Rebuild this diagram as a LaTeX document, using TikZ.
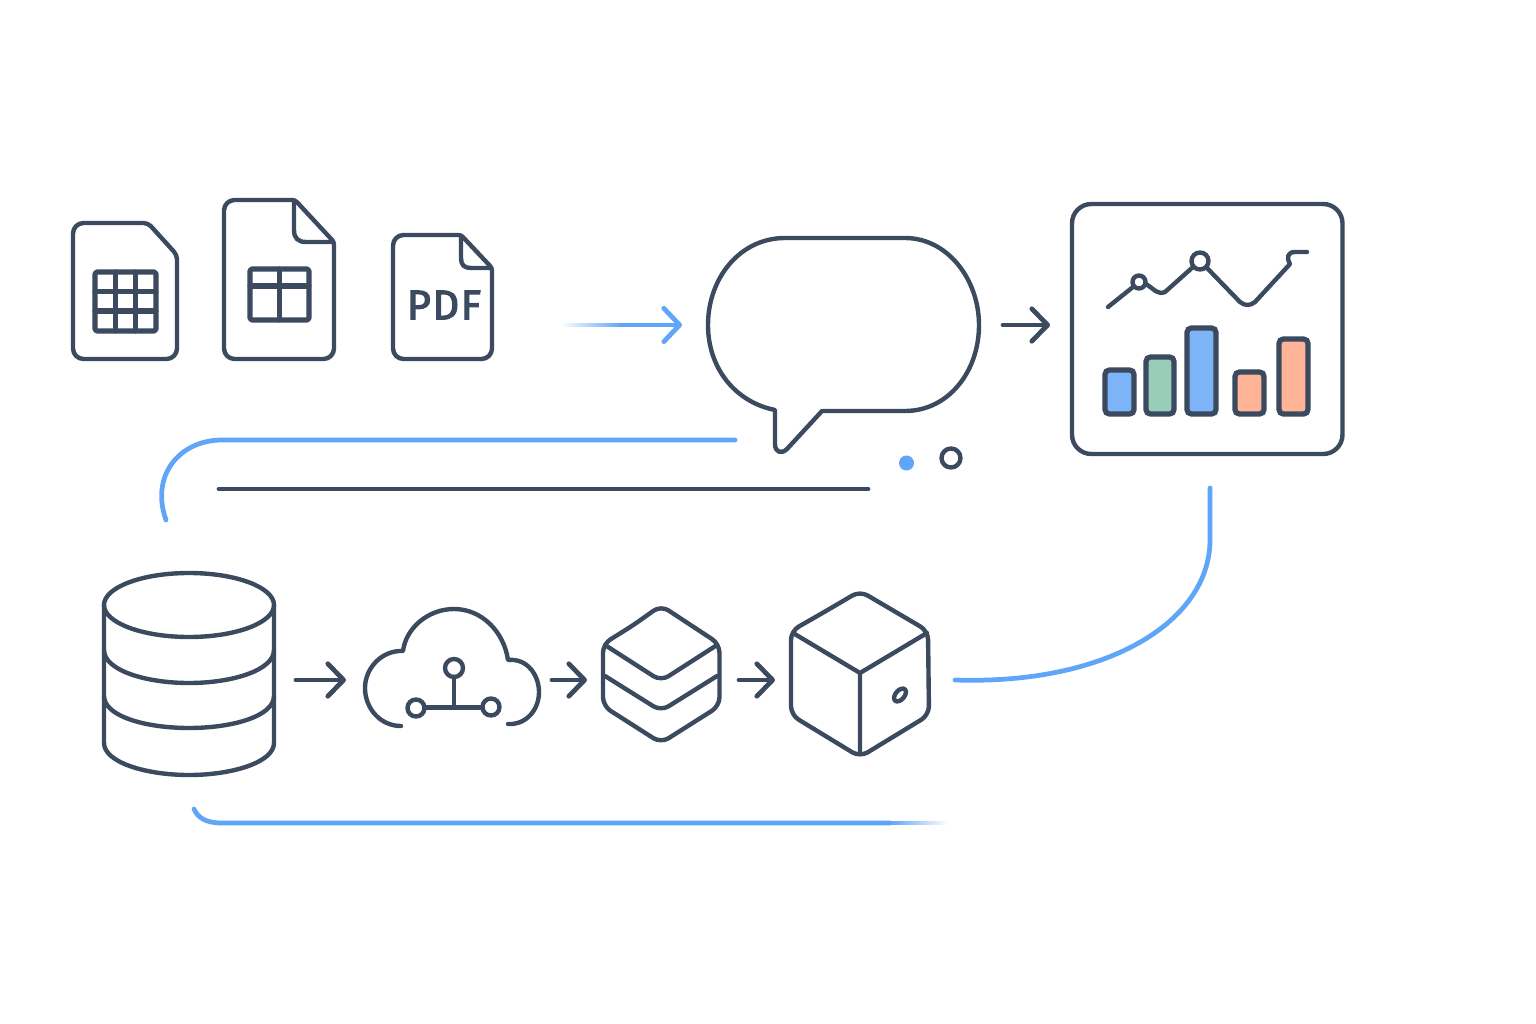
\documentclass[tikz,border=0pt]{standalone}
\usepackage{fontspec}
\newfontfamily\pdffont[FakeBold=3,LetterSpace=4]{Fira Sans}
\usepackage{xcolor}
\usetikzlibrary{calc,arrows.meta}
\definecolor{ink}{HTML}{3B4A5F}
\definecolor{flow}{HTML}{5FA5F8}
\definecolor{barblue}{HTML}{7DB4F8}
\definecolor{bargreen}{HTML}{97CDB9}
\definecolor{barorange}{HTML}{FFB498}
\tikzset{
  base/.style={draw=ink, line width=2.5pt, line cap=round, line join=round},
  grid/.style={draw=ink, line width=2.9pt, line cap=round, line join=round},
  link/.style={draw=flow, line width=2.7pt, line cap=round},
  next/.style={base, line width=2.7pt, -{Straight Barb[round,length=9pt,width=18.5pt,line width=2.7pt]}},
  nextb/.style={link, -{Straight Barb[round,length=9pt,width=19pt,line width=2.7pt]}},
  bar/.style={draw=ink, line width=3pt, rounded corners=2.5pt},
  lab/.style={text=ink, font=\pdffont\fontsize{23.5}{24}\selectfont, inner sep=0pt},
}
\begin{document}
\begin{tikzpicture}[x=0.02cm,y=-0.02cm]
  \useasboundingbox (0,0) rectangle (1536,1024);
  \fill[white] (0,0) rectangle (1536,1024);
  % named ends of the connectors
  \coordinate (filesfade) at (622,325);
  \coordinate (chatin) at (682,325);
  \coordinate (chatout) at (1003,325);
  \coordinate (panelin) at (1050,325);
  \coordinate (dbout) at (296,680);
  \coordinate (cloudin) at (346,680);
  \coordinate (cloudout) at (552,680);
  \coordinate (stackin) at (587,680);
  \coordinate (stackout) at (739,680);
  \coordinate (cubein) at (775,680);
  \coordinate (ruleleft) at (219,489);
  \coordinate (ruleright) at (868,489);
  % files
  \draw[base,rounded corners=6pt] (110,223) [rounded corners=2.5pt] -- (148,223) -- (177,255) [rounded corners=6pt] -- (177,359) -- (73,359) -- (73,223) -- cycle;
  \draw[grid,rounded corners=1pt] (95,272) rectangle (156,331);
  \draw[grid] (115.5,272) -- (115.5,331) (135.5,272) -- (135.5,331) (95,291.5) -- (156,291.5) (95,311) -- (156,311);
  \draw[base,rounded corners=6pt] (270,200) [rounded corners=1.5pt] -- (295,200) -- (334,242) [rounded corners=6pt] -- (334,359) -- (224,359) -- (224,200) -- cycle;
  \draw[base] (294,201) -- (294,230) .. controls (294,238) and (298,242) .. (306,242) -- (333,242);
  \draw[grid,rounded corners=1pt] (250,269) rectangle (309,320);
  \draw[grid] (279.5,269) -- (279.5,320) (250,286) -- (309,286);
  \draw[base,rounded corners=6pt] (430,235) [rounded corners=1.5pt] -- (461,235) -- (492,268) [rounded corners=6pt] -- (492,359) -- (393,359) -- (393,235) -- cycle;
  \draw[base] (461,236) -- (461,258) .. controls (461,265) and (464,268) .. (471,268) -- (491,268);
  \node[lab] (pdflabel) at (444,305) {PDF};
  % chat bubble
  \shade[left color=white,right color=flow] (560,323.6) rectangle (filesfade |- 0,326.4);
  \draw[nextb] (filesfade) -- (chatin);
  \draw[base] (785,238) -- (905,238) .. controls (948,238) and (979,280) .. (979,325)
    .. controls (979,372) and (948,411) .. (905,411) -- (822,411)
    -- (787,449) .. controls (782,454) and (775,453) .. (775,444) -- (775,410)
    .. controls (735,402) and (708,368) .. (708,325) .. controls (708,278) and (740,238) .. (785,238) -- cycle;
  \draw[next] (chatout) -- (panelin);
  % dashboard
  \draw[base,rounded corners=11pt] (1072,204) rectangle (1342.5,454);
  \draw[base] (1108,307) -- (1133,287);
  \draw[base] (1146,284) .. controls (1155,290) and (1158,295) .. (1165,292) -- (1193,267);
  \draw[base] (1207,268) -- (1240,302) .. controls (1245,306) and (1250,306) .. (1255,302)
    -- (1290,264) .. controls (1286,257) and (1288,252) .. (1295,252) -- (1307,252);
  \draw[base] (1139,282) circle[radius=6.5];
  \draw[base] (1200,261) circle[radius=8.5];
  \draw[bar,fill=barblue] (1105,370) rectangle (1134,414);
  \draw[bar,fill=bargreen] (1146,357) rectangle (1174,414);
  \draw[bar,fill=barblue] (1187,328) rectangle (1216,414);
  \draw[bar,fill=barorange] (1235,372) rectangle (1264,414);
  \draw[bar,fill=barorange] (1279,339) rectangle (1308,414);
  % links across the middle
  \draw[link] (735,440) -- (222,440) .. controls (180,440) and (150,475) .. (166,520);
  \draw[base,line width=2.7pt] (ruleleft) -- (ruleright);
  \fill[flow] (906.5,463) circle[radius=7.5];
  \draw[base] (951,458) circle[radius=9.5];
  \draw[link] (1210,488) -- (1210,540) .. controls (1210,620) and (1110,685) .. (955,680);
  % database
  \draw[base] (189,605) ellipse[x radius=85,y radius=32];
  \draw[base] (104,605) -- (104,743) .. controls (104,762) and (145,775) .. (189,775) .. controls (233,775) and (274,762) .. (274,743) -- (274,605);
  \draw[base] (104,650) .. controls (104,670) and (145,683) .. (189,683) .. controls (233,683) and (274,670) .. (274,650);
  \draw[base] (104,696) .. controls (104,716) and (145,728) .. (189,728) .. controls (233,728) and (274,716) .. (274,696);
  \draw[next] (dbout) -- (cloudin);
  % cloud
  \draw[base] (401,726) .. controls (380,726) and (365,708) .. (365,688)
    .. controls (365,668) and (382,650) .. (403,651)
    .. controls (406,628) and (428,609) .. (454,609)
    .. controls (482,609) and (504,632) .. (508,660)
    .. controls (528,658) and (539,676) .. (539,692)
    .. controls (539,710) and (526,725) .. (508,724);
  \draw[base] (454,668) circle[radius=9];
  \draw[base] (416,708) circle[radius=8.5];
  \draw[base] (491,707) circle[radius=8.5];
  \draw[base] (454,677) -- (454,707.5) (424.5,707.5) -- (482.5,707.5);
  \draw[next] (cloudout) -- (stackin);
  % stack
  \draw[base,rounded corners=5pt] (632,626) -- (661,605.5) -- (719.5,644) -- (719.5,706) -- (661,743) -- (603,706) -- (603,644) -- cycle;
  \draw[base,rounded corners=5pt] (605,645) -- (661,681) -- (717,645);
  \draw[base,rounded corners=5pt] (605,676) -- (661,711) -- (717,676);
  \draw[next] (stackout) -- (cubein);
  % cube
  \draw[base,rounded corners=5pt] (826,611) -- (860,591) -- (928,631) -- (929,715) -- (860,757) -- (791,715) -- (791,631) -- cycle;
  \draw[base] (793,633) -- (860,673) -- (927,633) (860,673) -- (860,754);
  \draw[base,rotate around={50:(900,695)}] (900,695) ellipse[x radius=7.5,y radius=4.5];
  % foot of the picture
  \draw[link] (194,809) .. controls (198,818) and (206,823) .. (222,823) -- (890,823);
  \shade[left color=flow,right color=white] (890,821.6) rectangle (948,824.4);
\end{tikzpicture}
\end{document}
